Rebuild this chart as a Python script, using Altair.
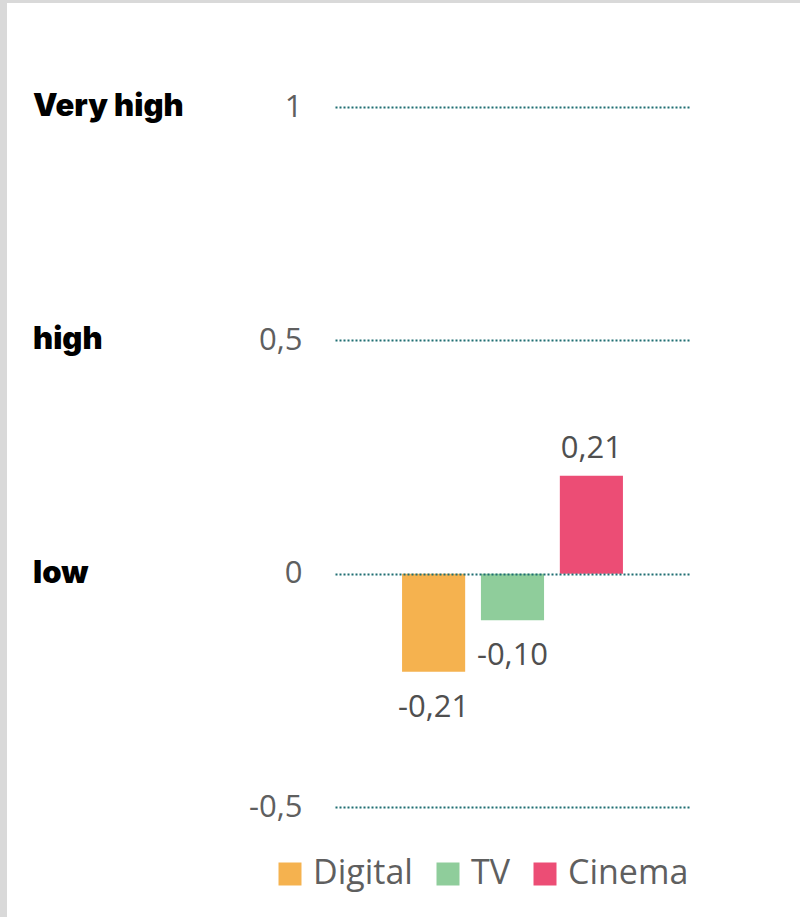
import altair as alt
import pandas as pd

# Media channels and their scores
categories = ["Digital", "TV", "Cinema"]
values = [-0.21, -0.10, 0.21]
colors = ["#F5B24F", "#8FCD9B", "#EC4D75"]

# Qualitative level names shown next to the axis
levels = ["Very high", "high", "low"]
level_values = [1, 0.5, 0]

# Axis ticks
tick_values = [-0.5, 0, 0.5, 1]

FONT = "Open Sans"
GREY = "#5f5f5f"

bars_df = pd.DataFrame({
    "channel": categories,
    "score": values,
    "label": [f"{v:.2f}".replace(".", ",") for v in values],
})
levels_df = pd.DataFrame({"level": levels, "score": level_values})

y_scale = alt.Scale(domain=[-0.5, 1], nice=False, zero=False)
x_scale = alt.Scale(paddingInner=0.2, paddingOuter=0.85)
x_enc = alt.X("channel:N", sort=categories, scale=x_scale, axis=None)

# Panel background with a thin grey frame on the top and left
frame = alt.Chart(pd.DataFrame({"a": [0]})).mark_rect(color="white").encode(
    x=alt.value(7 - 335), x2=alt.value(800 - 335),
    y=alt.value(3 - 107), y2=alt.value(917 - 107),
)

bars = alt.Chart(bars_df).mark_bar().encode(
    x=x_enc,
    y=alt.Y(
        "score:Q",
        scale=y_scale,
        axis=alt.Axis(
            values=tick_values,
            labelExpr="replace(toString(datum.value), '.', ',')",
            title=None,
            domain=False,
            ticks=False,
            grid=True,
            gridColor="#1F6E72",
            gridDash=[2, 2],
            gridWidth=2,
            labelFont=FONT,
            labelFontSize=31,
            labelColor=GREY,
            labelPadding=33,
            zindex=1,
        ),
    ),
    color=alt.Color(
        "channel:N",
        sort=categories,
        scale=alt.Scale(domain=categories, range=colors),
        legend=alt.Legend(
            title=None,
            orient="none",
            direction="horizontal",
            legendX=-62,
            legendY=750,
            symbolType="square",
            symbolSize=529,
            symbolStrokeWidth=0,
            symbolOpacity=1,
            labelFont=FONT,
            labelFontSize=34,
            labelColor=GREY,
            labelOffset=6,
            columnPadding=18,
        ),
    ),
)

pos_labels = alt.Chart(bars_df).transform_filter("datum.score >= 0").mark_text(
    font=FONT, fontSize=31, color="#4f4f4f", baseline="alphabetic", dy=-18
).encode(x=x_enc, y=alt.Y("score:Q", scale=y_scale), text="label:N")

neg_labels = alt.Chart(bars_df).transform_filter("datum.score < 0").mark_text(
    font=FONT, fontSize=31, color="#4f4f4f", baseline="alphabetic", dy=45
).encode(x=x_enc, y=alt.Y("score:Q", scale=y_scale), text="label:N")

level_text = alt.Chart(levels_df).mark_text(
    font="Inter", fontWeight=900, fontSize=31, color="black",
    align="left", baseline="alphabetic", dy=9,
).encode(
    x=alt.value(33 - 335),
    y=alt.Y("score:Q", scale=y_scale),
    text="level:N",
)

chart = alt.layer(frame, bars, pos_labels, neg_labels, level_text).properties(
    width=355,
    height=700,
    padding={"left": 335, "top": 107, "right": 110, "bottom": 110},
    autosize=alt.AutoSizeParams(type="none"),
    background="#d9d9d9",
).configure_view(stroke=None)

chart.save("out.html", embed_options={"renderer": "svg", "actions": False})
